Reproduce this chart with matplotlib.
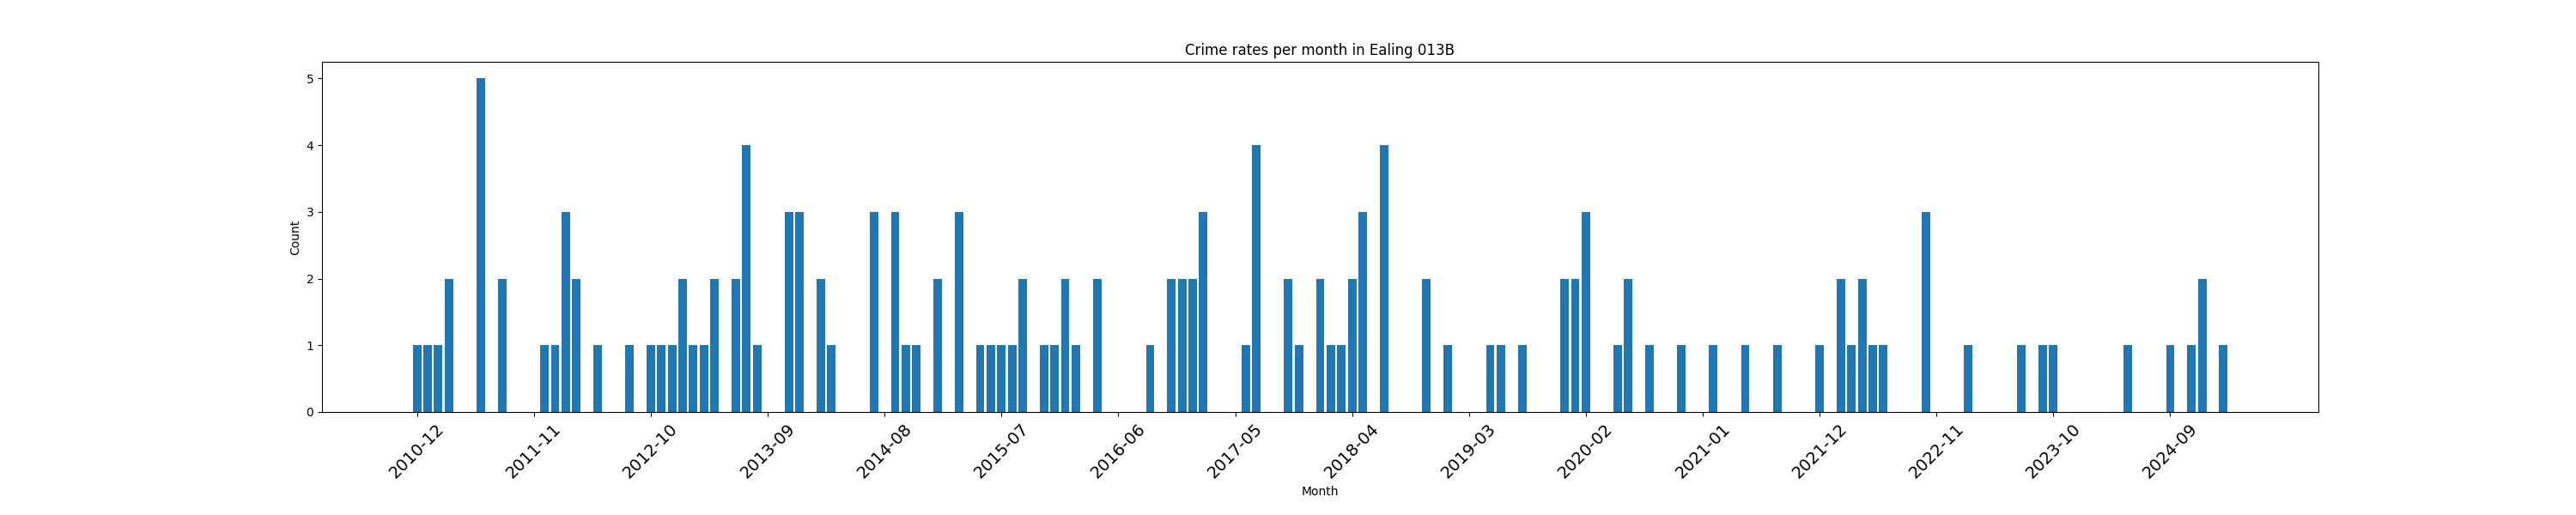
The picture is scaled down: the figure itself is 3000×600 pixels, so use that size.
import matplotlib
matplotlib.use("Agg")
import matplotlib.pyplot as plt
import pandas as pd

# Months with recorded crimes (others are zero)
crime_months = ["2010-12","2011-01","2011-02","2011-03","2011-06","2011-08","2011-12","2012-01","2012-02","2012-03",
    "2012-05","2012-08","2012-10","2012-11","2012-12","2013-01","2013-02","2013-03","2013-04","2013-06","2013-07","2013-08",
    "2013-11","2013-12","2014-02","2014-03","2014-07","2014-09","2014-10","2014-11","2015-01","2015-03","2015-05","2015-06",
    "2015-07","2015-08","2015-09","2015-11","2015-12","2016-01","2016-02","2016-04","2016-09","2016-11","2016-12","2017-01",
    "2017-02","2017-06","2017-07","2017-10","2017-11","2018-01","2018-02","2018-03","2018-04","2018-05","2018-07","2018-11",
    "2019-01","2019-05","2019-06","2019-08","2019-12","2020-01","2020-02","2020-05","2020-06","2020-08","2020-11","2021-02",
    "2021-05","2021-08","2021-12","2022-02","2022-03","2022-04","2022-05","2022-06","2022-10","2023-02","2023-07","2023-09",
    "2023-10","2024-05","2024-09","2024-11","2024-12","2025-02"]
crime_counts = [1,1,1,2,5,2,1,1,3,2,
    1,1,1,1,1,2,1,1,2,2,4,1,
    3,3,2,1,3,3,1,1,2,3,1,1,
    1,1,2,1,1,2,1,2,1,2,2,2,
    3,1,4,2,1,2,1,1,2,3,4,2,
    1,1,1,1,2,2,3,1,2,1,1,1,
    1,1,1,2,1,2,1,1,3,1,1,1,
    1,1,1,1,2,1]

all_months = pd.period_range("2010-12", "2025-02", freq="M").strftime("%Y-%m").tolist()
lookup = dict(zip(crime_months, crime_counts))
counts = [lookup.get(m, 0) for m in all_months]

fig, ax = plt.subplots(figsize=(30, 6), dpi=100)
fig.subplots_adjust(bottom=0.2)
ax.bar(all_months, counts, color="#1f77b4")
ax.set_xticks(range(0, len(all_months), 11))
ax.set_xticklabels(all_months[::11], rotation=45, fontsize=14)
ax.set_xlabel("Month")
ax.set_ylabel("Count")
ax.set_title("Crime rates per month in Ealing 013B")
fig.savefig("out.png")
